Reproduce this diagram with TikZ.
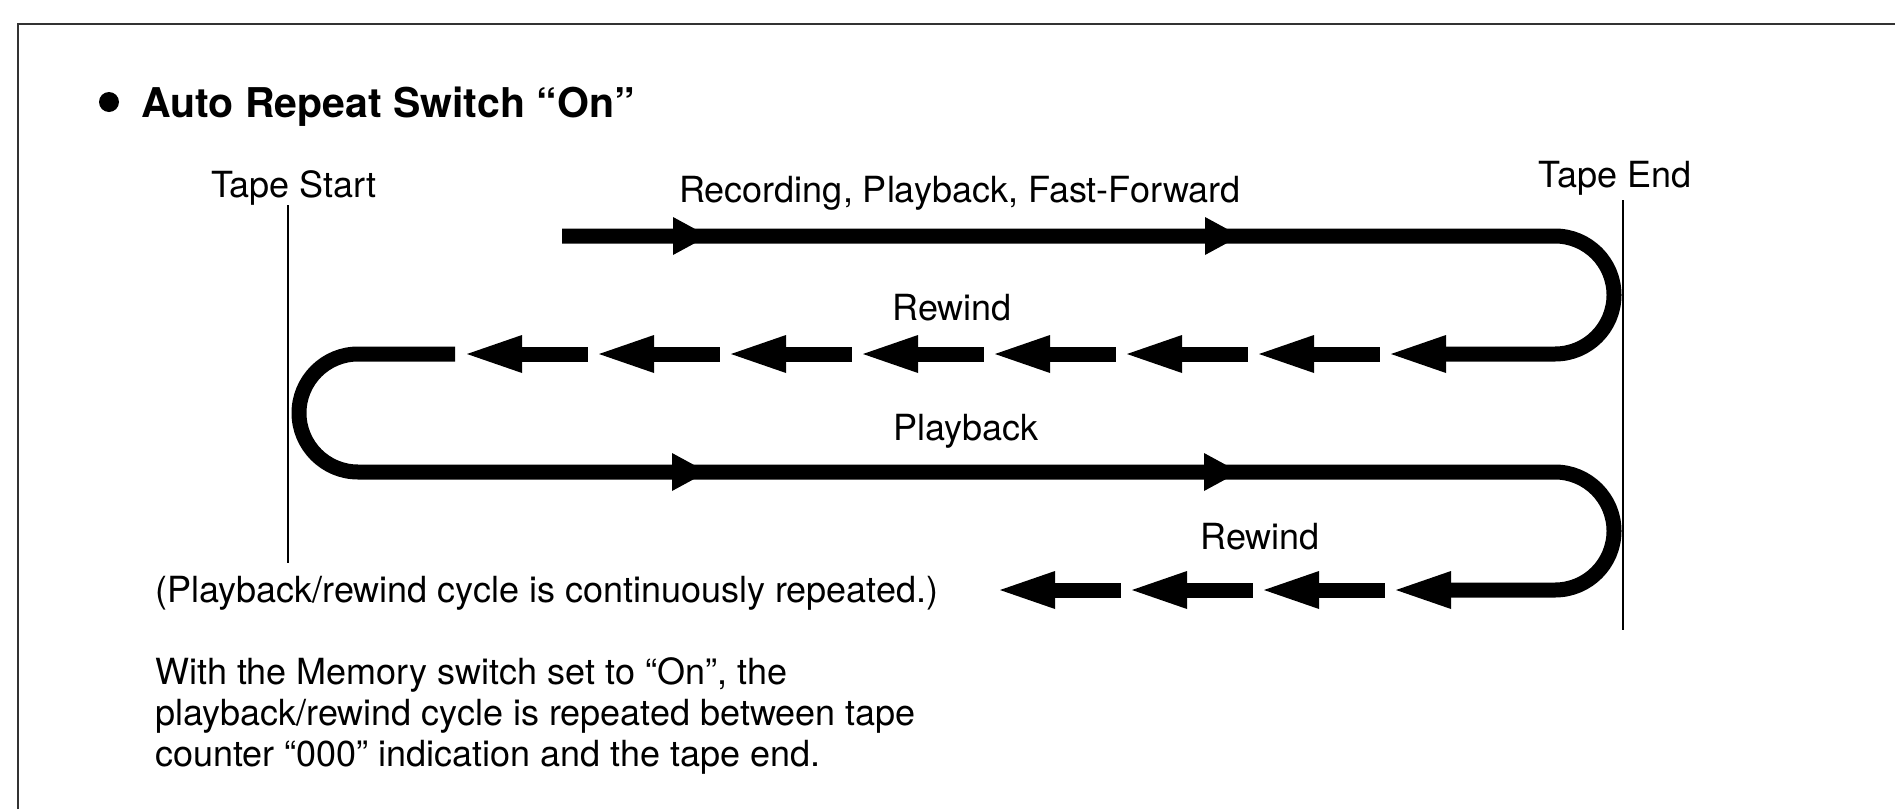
\documentclass[tikz,border=0pt]{standalone}
\usepackage{fontspec}
\setmainfont{TeX Gyre Heros}
\begin{document}
\begin{tikzpicture}[x=1pt,y=1pt,
  tape/.style={line width=15pt,line cap=butt},
  guide/.style={line width=2.6pt},
  frameline/.style={line width=2.6pt,draw=black!80},
  lbl/.style={inner sep=0pt,anchor=base,font=\fontsize{36}{43}\selectfont},
  para/.style={inner sep=0pt,anchor=base west,font=\fontsize{36}{43}\selectfont},
  rhead/.pic={\fill (-18,-19) -- (17,0) -- (-18,19) -- cycle;},
  lhead/.pic={\fill (0,0) -- (55,19) -- (55,-19) -- cycle;},
]
\useasboundingbox (0,0) rectangle (1895,-809);
% frame
\draw[frameline] (18,-809) -- (18,-24) -- (1895,-24);
% title
\fill (109,-102) circle (10);
\node[inner sep=0pt,anchor=base west,font=\bfseries\fontsize{41}{48}\selectfont] (title) at (141,-117) {Auto Repeat Switch “On”};
% tape start / end
\node[lbl] (tstart) at (294,-197) {Tape Start};
\node[lbl] (tend) at (1615,-187) {Tape End};
\coordinate (ts1) at (288,-205);
\coordinate (ts2) at (288,-563);
\coordinate (te1) at (1623,-200);
\coordinate (te2) at (1623,-630);
\draw[guide] (ts1) -- (ts2);
\draw[guide] (te1) -- (te2);
% labels
\node[lbl] (rec) at (960,-202) {Recording, Playback, Fast-Forward};
\node[lbl] (rw1) at (952,-320) {Rewind};
\node[lbl] (pb) at (966,-440) {Playback};
\node[lbl] (rw2) at (1260,-549) {Rewind};
\node[inner sep=0pt,anchor=base west,font=\fontsize{36}{43}\selectfont] (cyc) at (155,-602) {(Playback/rewind cycle is continuously repeated.)};
% tape path, first sweep
\coordinate (a0) at (562,-236);
\draw[tape] (a0) -- (1555,-236) arc[start angle=90,end angle=-90,radius=59] -- (1445,-354);
\pic at (1391,-354) {lhead};
\pic at (691,-236) {rhead};
\pic at (1223,-236) {rhead};
% rewind dashes row 1
\foreach \t in {467,599,...,1259} {
  \pic at (\t,-354) {lhead};
  \draw[tape] (\t+50,-354) -- (\t+121,-354);
}
% left loop and second sweep
\draw[tape] (455,-354) -- (358,-354) arc[start angle=90,end angle=270,radius=59] -- (1555,-472) arc[start angle=90,end angle=-90,radius=59] -- (1450,-590);
\pic at (690,-472) {rhead};
\pic at (1222,-472) {rhead};
\pic at (1396,-590) {lhead};
\foreach \t in {1000,1132,1264} {
  \pic at (\t,-590) {lhead};
  \draw[tape] (\t+50,-590) -- (\t+121,-590);
}
% paragraph
\node[para] (p1) at (155,-684) {With the Memory switch set to “On”, the};
\node[para] (p2) at (155,-725) {playback/rewind cycle is repeated between tape};
\node[para] (p3) at (155,-766) {counter “000” indication and the tape end.};
\end{tikzpicture}
\end{document}
